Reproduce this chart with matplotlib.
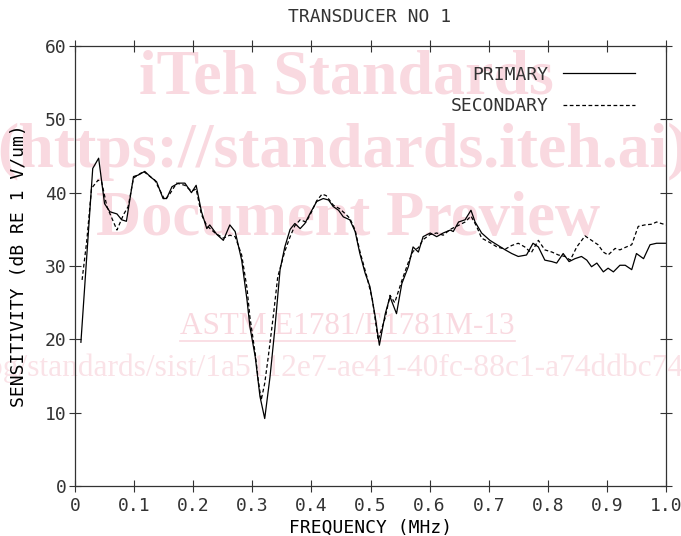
import matplotlib

matplotlib.use("Agg")
import matplotlib.pyplot as plt
from matplotlib.lines import Line2D

# values (frequency in MHz, sensitivity in dB)
primary_f = [0.010, 0.030, 0.040, 0.050, 0.059, 0.071, 0.079, 0.087, 0.099, 0.107,
             0.118, 0.130, 0.138, 0.149, 0.155, 0.164, 0.175, 0.186, 0.197, 0.205,
             0.214, 0.223, 0.228, 0.240, 0.251, 0.262, 0.271, 0.282, 0.291, 0.296,
             0.305, 0.313, 0.321, 0.330, 0.338, 0.347, 0.355, 0.364, 0.372, 0.381,
             0.389, 0.398, 0.409, 0.420, 0.429, 0.437, 0.446, 0.454, 0.465, 0.474,
             0.482, 0.491, 0.499, 0.508, 0.515, 0.525, 0.533, 0.544, 0.553, 0.564,
             0.572, 0.581, 0.589, 0.601, 0.612, 0.623, 0.635, 0.640, 0.649, 0.660,
             0.670, 0.677, 0.688, 0.702, 0.714, 0.728, 0.739, 0.750, 0.764, 0.775,
             0.784, 0.795, 0.807, 0.815, 0.826, 0.836, 0.846, 0.857, 0.866, 0.874,
             0.883, 0.894, 0.902, 0.911, 0.922, 0.931, 0.942, 0.950, 0.962, 0.973,
             0.984, 1.000]
primary_db = [19.6, 43.3, 44.7, 38.5, 37.4, 37.1, 36.3, 36.1, 42.2, 42.4,
              42.9, 42.0, 41.5, 39.2, 39.2, 40.8, 41.3, 41.3, 40.0, 41.0,
              37.4, 35.1, 35.6, 34.3, 33.5, 35.6, 34.7, 30.8, 25.4, 21.7,
              17.6, 12.2, 9.2, 14.9, 21.3, 29.5, 32.6, 35.0, 35.8, 35.1,
              35.8, 37.2, 38.8, 39.2, 39.0, 38.1, 37.6, 36.7, 36.3, 34.7,
              31.7, 29.0, 27.2, 23.1, 19.2, 23.5, 25.8, 23.5, 27.6, 29.9,
              32.6, 31.9, 34.0, 34.5, 34.0, 34.5, 34.9, 34.7, 36.0, 36.3,
              37.6, 36.0, 34.5, 33.5, 32.9, 32.2, 31.7, 31.3, 31.5, 33.1,
              32.6, 30.8, 30.6, 30.4, 31.7, 30.6, 31.0, 31.3, 30.8, 29.9,
              30.4, 29.2, 29.7, 29.2, 30.1, 30.1, 29.5, 31.7, 31.0, 32.9,
              33.1, 33.1]

secondary_f = [0.012, 0.020, 0.028, 0.039, 0.045, 0.054, 0.071, 0.082, 0.090, 0.099,
               0.116, 0.135, 0.152, 0.161, 0.172, 0.186, 0.197, 0.205, 0.214, 0.223,
               0.237, 0.251, 0.262, 0.271, 0.282, 0.291, 0.296, 0.305, 0.310, 0.315,
               0.321, 0.327, 0.336, 0.343, 0.355, 0.364, 0.372, 0.381, 0.391, 0.398,
               0.409, 0.418, 0.425, 0.437, 0.448, 0.459, 0.465, 0.474, 0.482, 0.494,
               0.503, 0.513, 0.525, 0.533, 0.541, 0.553, 0.564, 0.572, 0.581, 0.589,
               0.601, 0.612, 0.623, 0.635, 0.648, 0.660, 0.670, 0.679, 0.688, 0.702,
               0.714, 0.728, 0.739, 0.750, 0.761, 0.772, 0.784, 0.795, 0.807, 0.818,
               0.829, 0.838, 0.849, 0.863, 0.874, 0.885, 0.894, 0.902, 0.914, 0.922,
               0.933, 0.942, 0.953, 0.964, 0.976, 0.984, 1.000]
secondary_db = [28.1, 33.5, 40.6, 41.7, 41.5, 38.1, 34.9, 37.0, 38.1, 42.0,
                42.9, 41.7, 39.0, 39.9, 41.3, 41.0, 40.2, 40.5, 37.0, 35.5,
                34.5, 33.8, 34.2, 34.0, 31.5, 27.0, 23.0, 18.0, 14.5, 11.7,
                14.0, 17.6, 23.5, 28.5, 32.0, 34.0, 35.5, 36.3, 36.0, 37.0,
                38.9, 39.8, 39.6, 38.3, 37.8, 37.0, 36.5, 34.9, 32.0, 28.5,
                25.5, 19.9, 23.0, 26.0, 25.0, 28.0, 30.5, 32.0, 32.5, 33.6,
                34.3, 34.5, 34.2, 35.0, 35.5, 36.0, 36.8, 35.5, 33.8, 33.2,
                32.6, 32.3, 32.8, 33.1, 32.6, 31.8, 33.5, 32.2, 31.9, 31.5,
                31.3, 30.8, 32.6, 34.1, 33.5, 32.9, 31.9, 31.5, 32.4, 32.2,
                32.6, 32.9, 35.4, 35.6, 35.7, 36.0, 35.6]

x_ticks = [0, 0.1, 0.2, 0.3, 0.4, 0.5, 0.6, 0.7, 0.8, 0.9, 1.0]
x_ticklabels = ["0", "0.1", "0.2", "0.3", "0.4", "0.5", "0.6", "0.7", "0.8", "0.9", "1.0"]
y_ticks = [0, 10, 20, 30, 40, 50, 60]

INK = "#333333"
PINK = "#f9d9e0"

plt.rcParams["font.family"] = ["DejaVu Sans Mono"]
plt.rcParams["text.color"] = INK

W, H = 681, 536
fig = plt.figure(figsize=(W / 100, H / 100), dpi=100)
ax = fig.add_axes([75 / W, 1 - 486 / H, 591 / W, 440 / H])
ax.patch.set_visible(False)

# watermark (behind the axes)
wm = dict(family=["Liberation Serif", "DejaVu Serif"], color=PINK, ha="center",
          va="center", zorder=-5)
fig.text(346 / W, 1 - 78 / H, "iTeh Standards", fontsize=46, weight="bold", **wm)
fig.text(343 / W, 1 - 152 / H, "(https://standards.iteh.ai)", fontsize=46,
         weight="bold", **wm)
fig.text(348 / W, 1 - 220 / H, "Document Preview", fontsize=45, weight="bold", **wm)
fig.text(347 / W, 1 - 326 / H, "ASTM E1781/E1781M-13", fontsize=22.4, **wm)
fig.add_artist(Line2D([180 / W, 515 / W], [1 - 341 / H, 1 - 341 / H],
                      transform=fig.transFigure, color=PINK, lw=1.2, zorder=-5))
fig.text(684 / W, 1 - 368 / H,
         "https://standards.iteh.ai/catalog/standards/sist/1a5112e7-ae41-40fc-88c1-a74ddbc74",
         fontsize=22.7, family=["Liberation Serif", "DejaVu Serif"], color="#fae2e7",
         ha="right", va="center", zorder=-5)

ax.plot(primary_f, primary_db, color="black", lw=0.9, label="PRIMARY")
ax.plot(secondary_f, secondary_db, color="black", lw=0.9, ls=(0, (3, 2)),
        label="SECONDARY")

ax.set_xlim(0, 1.0)
ax.set_ylim(0, 60)
ax.set_xticks(x_ticks)
ax.set_xticklabels(x_ticklabels)
ax.set_yticks(y_ticks)
ax.tick_params(direction="inout", length=8, width=0.8, colors=INK, labelsize=13,
               top=True, right=True)
ax.tick_params(axis="x", pad=4)
ax.tick_params(axis="y", pad=2)
for s in ax.spines.values():
    s.set_linewidth(0.9)
    s.set_color(INK)

ax.set_xlabel("FREQUENCY (MHz)", fontsize=13, labelpad=3)
ax.set_ylabel("SENSITIVITY (dB RE 1 V/um)", fontsize=13, labelpad=12)
fig.text(370 / W, 1 - 17 / H, "TRANSDUCER NO 1", fontsize=13, ha="center", va="center")

ax.legend(loc="upper right", bbox_to_anchor=(0.948, 0.955), markerfirst=False,
          frameon=False, fontsize=13, handlelength=4.0, handletextpad=0.8,
          labelspacing=0.75, borderpad=0, borderaxespad=0)

fig.savefig("out.png", dpi=100)
